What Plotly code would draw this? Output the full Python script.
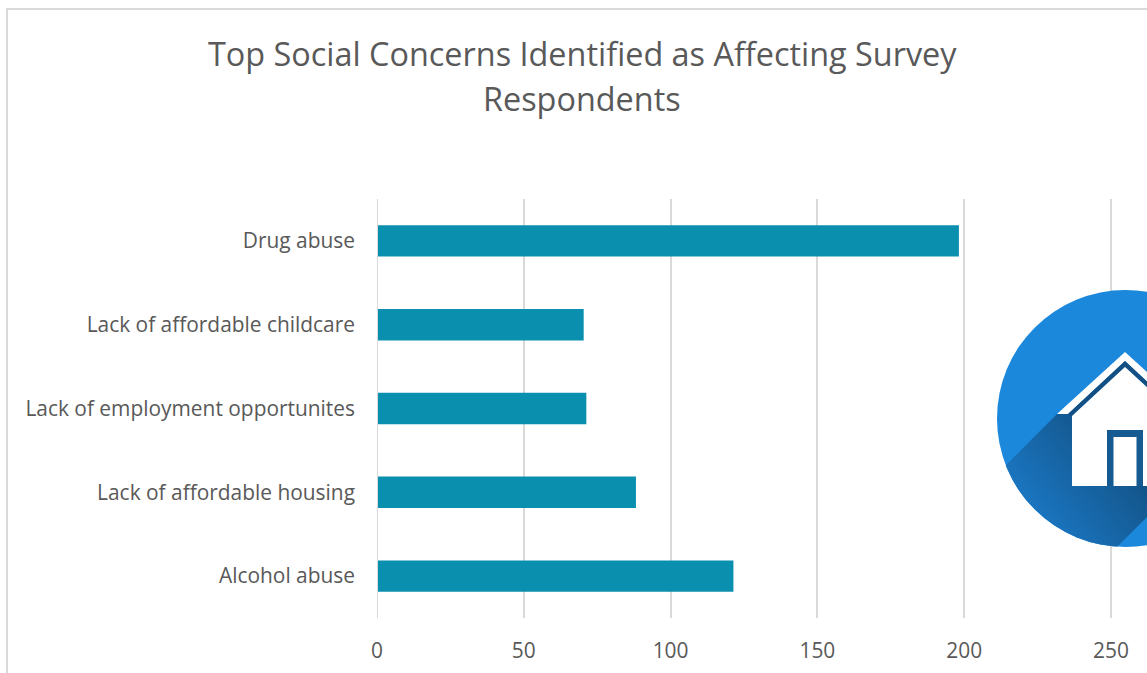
import base64
import plotly.graph_objects as go

categories = ["Alcohol abuse", "Lack of affordable housing", "Lack of employment opportunites",
              "Lack of affordable childcare", "Drug abuse"]
respondents = [121.4, 88.2, 71.3, 70.4, 198.2]
value_ticks = [0, 50, 100, 150, 200, 250]
title_lines = ["Top Social Concerns Identified as Affecting Survey", "Respondents"]

WIDTH, HEIGHT = 1147, 673
LEFT, TOP, BOTTOM = 377, 199, 55
plot_w = WIDTH - LEFT
plot_h = HEIGHT - TOP - BOTTOM
GREY = "#595959"
RULE = "#d9d9d9"

# House badge, cropped by the right edge of the page
ICON_X0, ICON_Y0, ICON_X1, ICON_Y1 = 990, 284, 1147, 553
icon_svg = f"""<svg xmlns="http://www.w3.org/2000/svg" width="{ICON_X1-ICON_X0}" height="{ICON_Y1-ICON_Y0}"
 viewBox="{ICON_X0} {ICON_Y0} {ICON_X1-ICON_X0} {ICON_Y1-ICON_Y0}">
<defs>
<clipPath id="disc"><circle cx="1125.5" cy="418.5" r="128.5"/></clipPath>
<linearGradient id="shade" gradientUnits="userSpaceOnUse" x1="1120" y1="450" x2="1025" y2="525">
<stop offset="0" stop-color="#135489"/><stop offset="1" stop-color="#1b7ac8"/>
</linearGradient>
</defs>
<circle cx="1125.5" cy="418.5" r="128.5" fill="#1b88dc"/>
<polygon clip-path="url(#disc)" fill="url(#shade)"
 points="1057,414 957,514 1050,614 1178,486 1178,414"/>
<polygon fill="#ffffff" points="1125,352 1193,414 1182,414 1125,361 1068,414 1057,414"/>
<polygon fill="#134f82" points="1125,361 1182,414 1178,416 1125,367 1072,416 1068,414"/>
<polygon fill="#ffffff" points="1125,367 1178,416 1178,486 1072,486 1072,416"/>
<rect x="1107" y="430" width="36" height="56" fill="#155a91"/>
<rect x="1113.5" y="437" width="23" height="49" fill="#ffffff"/>
</svg>"""
icon_uri = "data:image/svg+xml;base64," + base64.b64encode(icon_svg.encode()).decode()


def px_x(px):
    return (px - LEFT) / plot_w


def px_y(py):
    return (TOP + plot_h - py) / plot_h


fig = go.Figure(go.Bar(
    y=categories,
    x=respondents,
    orientation="h",
    marker=dict(color="#0b8fae", line=dict(width=0)),
    width=0.375,
))

# Each title line is placed on its own so the line spacing can be set
title_annotations = [
    dict(text=line, xref="paper", yref="paper", x=px_x(582), y=px_y(py),
         xanchor="center", yanchor="middle", showarrow=False,
         font=dict(family="Open Sans", size=32.4, color=GREY))
    for line, py in zip(title_lines, (53, 98))
]

fig.update_layout(
    width=WIDTH,
    height=HEIGHT,
    autosize=False,
    margin=dict(l=LEFT, r=0, t=TOP, b=BOTTOM, pad=0),
    paper_bgcolor="white",
    plot_bgcolor="white",
    showlegend=False,
    font=dict(family="Open Sans", color=GREY),
    annotations=title_annotations,
    xaxis=dict(
        range=[0, plot_w / 2.936],
        tickvals=value_ticks,
        showgrid=True,
        gridcolor=RULE,
        gridwidth=2,
        zeroline=False,
        showline=False,
        ticks="",
        ticklabelstandoff=18,
        tickfont=dict(family="Open Sans", size=20.9, color=GREY),
    ),
    yaxis=dict(
        categoryorder="array",
        categoryarray=categories,
        range=[-0.5, 4.5],
        showgrid=False,
        zeroline=False,
        showline=False,
        ticks="",
        ticklabelstandoff=21,
        tickfont=dict(family="Open Sans", size=20.9, color=GREY),
    ),
    shapes=[
        dict(type="rect", xref="paper", yref="paper", layer="below",
             x0=px_x(7), y0=px_y(700), x1=px_x(1200), y1=px_y(9),
             line=dict(color=RULE, width=2), fillcolor="rgba(0,0,0,0)"),
        # Zero rule sits on top of the bars
        dict(type="line", xref="x", yref="paper", layer="above",
             x0=0, x1=0, y0=0, y1=1, line=dict(color=RULE, width=2)),
    ],
    images=[dict(
        source=icon_uri, xref="paper", yref="paper", layer="above",
        x=px_x(ICON_X0), y=px_y(ICON_Y0),
        sizex=(ICON_X1 - ICON_X0) / plot_w, sizey=(ICON_Y1 - ICON_Y0) / plot_h,
        xanchor="left", yanchor="top", sizing="stretch",
    )],
)

fig.write_html("out.html", config=dict(displayModeBar=False))
